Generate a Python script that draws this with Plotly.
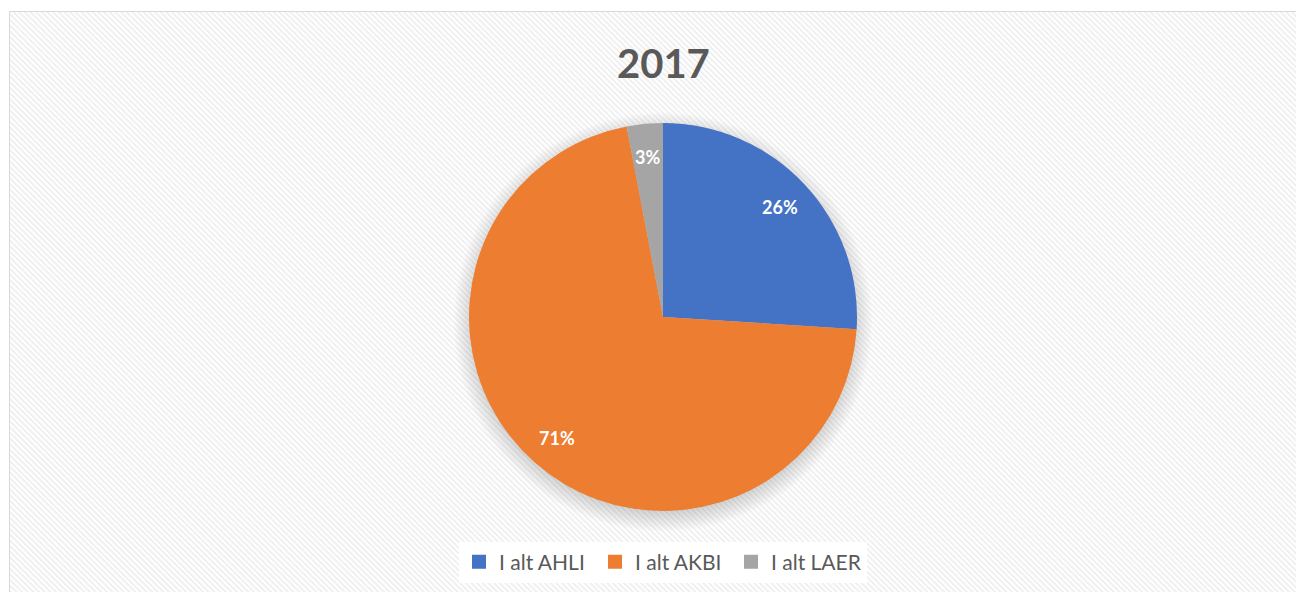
import base64
import math
import plotly.graph_objects as go

labels = ["I alt AHLI", "I alt AKBI", "I alt LAER"]
values = [26, 71, 3]
colors = ["#4472C4", "#ED7D31", "#A5A5A5"]
title_text = "2017"

W, H = 1304, 592
OFF = 8  # browser body margin
cx, cy, r = 663 - OFF, 317 - OFF, 194

# subtle diagonal hatch background + soft pie shadow, as an inline SVG
svg = f'''<svg xmlns="http://www.w3.org/2000/svg" width="{W}" height="{H}">
<defs><pattern id="p" width="4" height="4" patternUnits="userSpaceOnUse" patternTransform="rotate(-45)">
<rect width="4" height="4" fill="#ffffff"/><rect width="2" height="4" fill="#f0f0f0"/></pattern>
<radialGradient id="s" cx="50%" cy="50%" r="50%">
<stop offset="88%" stop-color="#000" stop-opacity="0.20"/>
<stop offset="100%" stop-color="#000" stop-opacity="0"/></radialGradient></defs>
<rect x="1.5" y="3.5" width="{W - 10}" height="{H}" fill="url(#p)" stroke="#d9d9d9" stroke-width="1"/>
<circle cx="{cx}" cy="{cy + 5}" r="{r + 16}" fill="url(#s)"/>
</svg>'''
src = "data:image/svg+xml;base64," + base64.b64encode(svg.encode()).decode()

fig = go.Figure(go.Pie(
    labels=labels, values=values, sort=False, direction="clockwise", rotation=0,
    marker=dict(colors=colors, line=dict(width=0)),
    textinfo="none", showlegend=False,
    domain=dict(x=[(cx - r) / W, (cx + r) / W], y=[(H - cy - r) / H, (H - cy + r) / H]),
    hoverinfo="label+percent",
))

# legend entries with larger square swatches (no visible points)
for lab, col in zip(labels, colors):
    fig.add_trace(go.Scatter(x=[None], y=[None], mode="markers", name=lab,
                             marker=dict(symbol="square", size=14, color=col),
                             showlegend=True, hoverinfo="skip"))

# data labels placed along each slice's mid-angle
total = sum(values)
annotations = []
cum = 0
k = 0.83
for v in values:
    mid = (cum + v / 2) / total * 2 * math.pi
    cum += v
    px = cx + math.sin(mid) * r * k
    py = cy - math.cos(mid) * r * k
    annotations.append(dict(text=f"<b>{round(v / total * 100)}%</b>", x=px / W, y=1 - py / H,
                            xref="paper", yref="paper", showarrow=False,
                            xanchor="center", yanchor="middle",
                            font=dict(size=18, color="white", family="Lato")))

annotations.append(dict(text=f"<b>{title_text}</b>", x=cx / W, y=1 - (63 - OFF) / H,
                        xref="paper", yref="paper", showarrow=False,
                        xanchor="center", yanchor="middle",
                        font=dict(size=40, color="#595959", family="Lato")))

fig.update_layout(
    width=W, height=H,
    margin=dict(l=0, r=0, t=0, b=0),
    paper_bgcolor="white", plot_bgcolor="rgba(0,0,0,0)",
    xaxis=dict(visible=False), yaxis=dict(visible=False),
    images=[dict(source=src, xref="paper", yref="paper", x=0, y=1, sizex=1, sizey=1,
                 xanchor="left", yanchor="top", sizing="stretch", layer="below")],
    annotations=annotations,
    showlegend=True,
    legend=dict(orientation="h", x=cx / W, xanchor="center", y=1 - (562 - OFF) / H, yanchor="middle",
                bgcolor="white", font=dict(size=21, color="#595959", family="Lato"),
                itemwidth=30, traceorder="normal", entrywidth=91, entrywidthmode="pixels"),
)

fig.write_html("out.html")
